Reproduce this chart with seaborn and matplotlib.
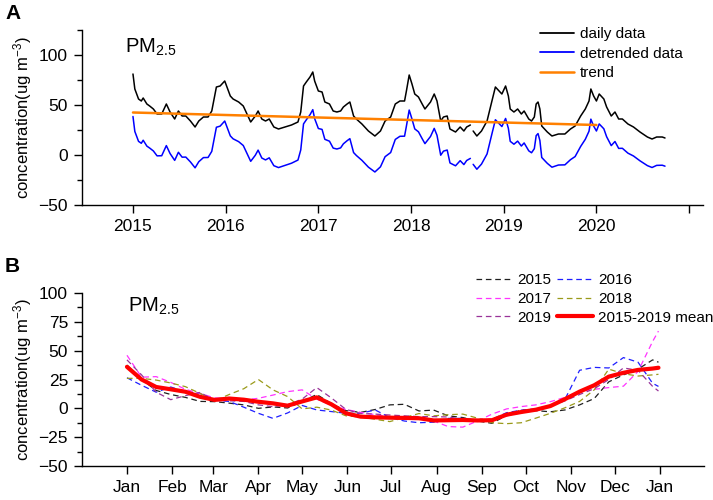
import numpy as np
import pandas as pd
import seaborn as sns
import matplotlib.pyplot as plt
from matplotlib.lines import Line2D
from matplotlib.ticker import MultipleLocator

# ----------- DATA: panel A (daily PM2.5) -----------
years = [2015.00, 2015.02, 2015.06, 2015.09, 2015.11, 2015.15, 2015.18, 2015.22, 2015.26, 2015.31,
         2015.36, 2015.40, 2015.45, 2015.49, 2015.53, 2015.57, 2015.62, 2015.67, 2015.71, 2015.76,
         2015.81, 2015.85, 2015.90, 2015.94, 2015.99, 2016.01, 2016.05, 2016.08, 2016.14, 2016.19,
         2016.23, 2016.27, 2016.32, 2016.35, 2016.39, 2016.43, 2016.47, 2016.52, 2016.57, 2016.64,
         2016.71, 2016.78, 2016.81, 2016.84, 2016.87, 2016.91, 2016.94, 2016.96, 2017.00, 2017.04,
         2017.07, 2017.12, 2017.16, 2017.20, 2017.24, 2017.27, 2017.31, 2017.34, 2017.38, 2017.41,
         2017.47, 2017.54, 2017.61, 2017.67, 2017.72, 2017.78, 2017.83, 2017.88, 2017.93, 2017.95,
         2017.98, 2018.01, 2018.04, 2018.08, 2018.12, 2018.15, 2018.21, 2018.25, 2018.28, 2018.32,
         2018.35, 2018.39, 2018.42, 2018.48, 2018.53, 2018.57, 2018.60, 2018.64, 2018.655, 2018.67,
         2018.71, 2018.76, 2018.82, 2018.87, 2018.91, 2018.95, 2018.98, 2019.02, 2019.05, 2019.07,
         2019.11, 2019.15, 2019.19, 2019.22, 2019.27, 2019.30, 2019.33, 2019.35, 2019.37, 2019.39,
         2019.41, 2019.47, 2019.52, 2019.59, 2019.66, 2019.72, 2019.77, 2019.83, 2019.88, 2019.92,
         2019.94, 2019.97, 2020.00, 2020.03, 2020.08, 2020.11, 2020.16, 2020.20, 2020.24, 2020.28,
         2020.34, 2020.40, 2020.47, 2020.55, 2020.60, 2020.65, 2020.71, 2020.74]
daily = [81, 66, 56, 54, 57, 51, 49, 46, 41, 41,
         51, 43, 36, 44, 39, 39, 34, 28, 34, 38,
         38, 44, 68, 69, 74, 69, 59, 56, 53, 49,
         41, 33, 39, 44, 36, 34, 36, 28, 26, 28,
         30, 33, 43, 69, 73, 78, 83, 74, 64, 63,
         53, 51, 44, 43, 44, 48, 51, 53, 39, 36,
         31, 24, 19, 24, 34, 38, 51, 54, 54, 64,
         80, 71, 61, 58, 51, 46, 53, 61, 54, 34,
         38, 39, 26, 23, 28, 24, 28, 30, np.nan, 24,
         19, 24, 34, 53, 68, 64, 61, 69, 59, 46,
         43, 46, 41, 44, 36, 34, 38, 51, 53, 46,
         29, 23, 19, 21, 21, 26, 29, 39, 46, 54,
         66, 59, 54, 61, 56, 48, 39, 43, 36, 36,
         31, 28, 23, 18, 16, 18, 18, 17]
trend_years = [2015.0, 2020.0]
trend_vals = [42.5, 30.0]

# ----------- DATA: panel B (yearly cycle, day of year) -----------
days = [0, 10, 20, 30, 40, 50, 60, 70, 80, 90, 100, 110, 120, 130, 140, 150, 160, 170, 180,
        190, 200, 210, 220, 230, 240, 250, 260, 270, 280, 290, 300, 310, 320, 330, 340, 350, 360, 364]
y2015 = [37.5, 25, 15.5, 12, 9.5, 6, 5.8, 4.5, 3, 0, 1.2, 0.3, 6, 12, 4, -2, -3.5, -1, 3,
         3.5, -2.3, -1.5, -6.5, -8, -11, -13, -6, -1.5, -2, -3, -1.4, 3, 8.5, 23, 29, 34, 42, 40]
y2016 = [26.5, 20, 14, 18.5, 14.4, 13, 7, 6, 1, -4.3, -8.7, -4, 2.5, -1.4, -2.8, -4.3, -4.3, -1.4, -8,
         -11, -12.5, -12, -8.7, -8.7, -10.5, -9.5, -3.8, -1.6, -0.5, 2.5, 8, 33, 35.5, 35, 44, 40, 21.7, 19]
y2017 = [46, 27, 27.5, 22.5, 16.5, 13, 9, 8.7, 7.2, 8.7, 11.5, 14.5, 16, 8, 2.5, -1, -3.5, -5.5, -7.2,
         -8, -8.7, -11, -15.8, -16.3, -11, -5, -0.5, 1.5, 3, 5.8, 9.5, 14.8, 16.5, 18, 19.2, 32, 58, 67]
y2018 = [26, 26, 24.5, 22, 18.8, 13, 6.5, 12, 17, 25, 16, 10.2, -0.5, 1, -1.5, -6.5, -7.5, -9.5, -11.5,
         -8, -4.5, -6.5, -5.5, -5, -8.5, -12.5, -13.3, -12.5, -8.5, -4.3, 0.5, 6, 16, 34, 30, 28, 29, 29.5]
y2019 = [42, 29, 14, 7.5, 11, 13.8, 7, 6.5, 6, 3, 1.4, 3, 8, 18, 9, -1, -4.5, -5, -5.8,
         -6.5, -7.2, -7.2, -7.5, -9.5, -10, -9.5, -6.5, -3.8, -1.5, 2, 6.5, 12, 17, 25, 35, 33, 19, 15]
mean_1519 = [36, 25, 18.5, 16.5, 14.4, 10, 7.3, 8.5, 7.5, 5.7, 4.3, 2.3, 6, 9.5, 3.5, -4.3, -7.2, -7.8, -8.1,
             -8.3, -8.6, -10.5, -10.3, -10.1, -10.5, -10.3, -5.5, -3.2, -1.2, 2, 8, 14.5, 20, 27.5, 30.8, 33.3, 34.5, 35.2]

year_labels = ["2015", "2016", "2017", "2018", "2019"]
year_colors = ["#202020", "#1f1fff", "#ff33ff", "#9a9a1a", "#993399"]
month_days = [0, 31, 59, 90, 120, 151, 181, 212, 243, 273, 304, 334, 365]
month_labels = ["Jan", "Feb", "Mar", "Apr", "May", "Jun", "Jul", "Aug", "Sep", "Oct", "Nov", "Dec", "Jan"]

# ----------- STYLE -----------
sns.set_theme(style="ticks", rc={
    "axes.edgecolor": "black", "xtick.color": "black", "ytick.color": "black",
    "axes.labelcolor": "black", "text.color": "black",
})
plt.rcParams["font.family"] = ["Liberation Sans", "DejaVu Sans"]
plt.rcParams["mathtext.default"] = "regular"
plt.rcParams["axes.linewidth"] = 1.0
plt.rcParams["xtick.direction"] = "out"
plt.rcParams["ytick.direction"] = "out"

fig = plt.figure(figsize=(7.13, 5.0), dpi=100)

# ----------- PANEL A -----------
dfa = pd.DataFrame({"year": years, "daily": daily})
dfa["seg"] = dfa["daily"].isna().cumsum()
dfa = dfa.dropna()
slope = (trend_vals[1] - trend_vals[0]) / (trend_years[1] - trend_years[0])
dfa["detrended"] = dfa["daily"] - (trend_vals[0] + slope * (dfa["year"] - trend_years[0]))
dft = pd.DataFrame({"year": trend_years, "trend": trend_vals})

ax1 = fig.add_axes([0.115, 0.59, 0.871, 0.35])
sns.lineplot(data=dfa, x="year", y="daily", units="seg", estimator=None, sort=False,
             color="black", lw=1.1, legend=False, ax=ax1)
sns.lineplot(data=dfa, x="year", y="detrended", units="seg", estimator=None, sort=False,
             color="#0000ff", lw=1.1, legend=False, ax=ax1)
sns.lineplot(data=dft, x="year", y="trend", color="#ff8000", lw=1.8, legend=False, ax=ax1)

ax1.set_xlim(2014.45, 2021.15)
ax1.set_ylim(-50, 125)
ax1.set_xticks(range(2015, 2022))
ax1.set_xticklabels([str(y) for y in range(2015, 2021)] + [""])
ax1.yaxis.set_major_locator(MultipleLocator(50))
ax1.yaxis.set_minor_locator(MultipleLocator(25))
ax1.set_xlabel("")
ax1.set_ylabel("concentration(ug m$^{-3}$)", fontsize=12, labelpad=3)
ax1.tick_params(axis="both", which="major", labelsize=12.5, length=6, width=1.0, pad=4)
ax1.tick_params(axis="y", which="minor", length=3.5, width=1.0)
sns.despine(ax=ax1)
ax1.text(0.069, 0.90, "PM$_{2.5}$", transform=ax1.transAxes, fontsize=14.5, ha="left", va="center")

handles_a = [Line2D([], [], color="black", lw=1.3),
             Line2D([], [], color="#0000ff", lw=1.3),
             Line2D([], [], color="#ff8000", lw=1.8)]
fig.legend(handles_a, ["daily data", "detrended data", "trend"], loc="upper left",
           bbox_to_anchor=(540 / 713, 1 - 27 / 500), frameon=False, fontsize=11,
           handlelength=2.2, handletextpad=0.4, labelspacing=0.36, borderpad=0, borderaxespad=0)

# ----------- PANEL B -----------
dfb = pd.DataFrame({"day": days, "2015": y2015, "2016": y2016, "2017": y2017,
                    "2018": y2018, "2019": y2019, "mean": mean_1519})

ax2 = fig.add_axes([0.115, 0.068, 0.872, 0.346])
for lab, col in zip(year_labels, year_colors):
    sns.lineplot(data=dfb, x="day", y=lab, color=col, lw=0.9, linestyle=(0, (4.5, 3)),
                 legend=False, ax=ax2)
sns.lineplot(data=dfb, x="day", y="mean", color="#ff0000", lw=3.0, legend=False, ax=ax2)

ax2.set_xlim(-30.8, 395)
ax2.set_ylim(-50, 100)
ax2.set_xticks(month_days)
ax2.set_xticklabels(month_labels)
ax2.yaxis.set_major_locator(MultipleLocator(25))
ax2.yaxis.set_minor_locator(MultipleLocator(12.5))
ax2.set_xlabel("")
ax2.set_ylabel("concentration(ug m$^{-3}$)", fontsize=12, labelpad=3)
ax2.tick_params(axis="both", which="major", labelsize=12.5, length=6, width=1.0, pad=4)
ax2.tick_params(axis="y", which="minor", length=3.5, width=1.0)
sns.despine(ax=ax2)
ax2.text(0.074, 0.92, "PM$_{2.5}$", transform=ax2.transAxes, fontsize=14.5, ha="left", va="center")

dash_handle = lambda c: Line2D([], [], color=c, lw=0.9, linestyle=(0, (4.5, 3)))
handles_b = [dash_handle(year_colors[0]), dash_handle(year_colors[2]), dash_handle(year_colors[4]),
             dash_handle(year_colors[1]), dash_handle(year_colors[3]),
             Line2D([], [], color="#ff0000", lw=3.0)]
labels_b = ["2015", "2017", "2019", "2016", "2018", "2015-2019 mean"]
fig.legend(handles_b, labels_b, loc="upper left", ncol=2,
           bbox_to_anchor=(476 / 713, 1 - 273 / 500), frameon=False, fontsize=11,
           handlelength=2.4, handletextpad=0.3, labelspacing=0.32, columnspacing=0.35,
           borderpad=0, borderaxespad=0)

# ----------- PANEL LETTERS -----------
fig.text(5 / 713, 1 - 4 / 500, "A", fontsize=15, fontweight="bold", ha="left", va="top")
fig.text(5 / 713, 1 - 257 / 500, "B", fontsize=15, fontweight="bold", ha="left", va="top")

fig.savefig("out.png", dpi=100)
